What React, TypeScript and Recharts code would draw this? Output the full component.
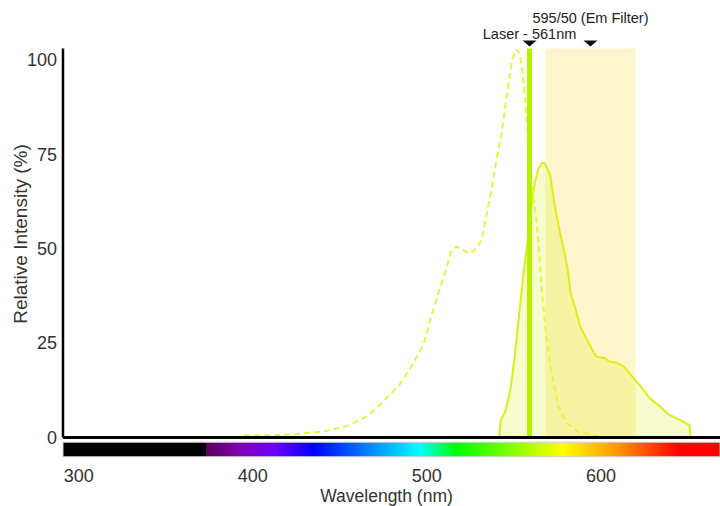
import React from "react";
import {
  Area,
  ComposedChart,
  Label,
  Line,
  ReferenceArea,
  ReferenceLine,
  XAxis,
  YAxis
} from "recharts";

// excitation spectrum (dashed)
const excitationNm = [
  395, 412, 425, 441, 454, 466, 475, 485, 491, 498, 502, 507, 511, 514, 517,
  521, 525, 529, 531.5, 534.5, 537.5, 540, 543, 545, 547, 549, 551.5, 553.5,
  555, 556.5, 557.5, 560, 562, 564, 566, 568, 571, 575.5, 580.5, 587, 595.5,
  599.5
];
const excitationVal = [
  0.5, 0.6, 0.9, 1.6, 3, 5.7, 9.5, 14.4, 18.8, 24.5, 31.2, 38.7, 44.4, 49.3, 50.6,
  49.6, 48.6, 50.4, 52.4, 59.5, 66.5, 73.6, 80.7, 87.7, 94, 100, 102.8, 101.5,
  96.6, 89.5, 83.3, 67.4, 61.2, 52.4, 39.1, 29.4, 18.8, 8.2, 3.8, 1.4, 0.8, 0
];

// emission spectrum (filled)
const emissionNm = [
  541.5, 542.5, 545, 548, 550.5, 553.5, 556, 557.5, 560.5, 562, 564, 566,
  567.5, 569, 571, 573.5, 576.5, 579.5, 581.5, 582.5, 585, 588, 592, 595.5,
  597.5, 602.5, 605, 609, 613, 615.5, 619.5, 624.5, 628, 634, 638.5, 645.5,
  651, 651.5
];
const emissionVal = [
  0, 4.6, 6.8, 12.6, 21.4, 34.7, 45.3, 50.6, 63, 67.4, 71, 72.7, 72.7, 71.4,
  69.2, 61.2, 54.2, 48, 42.7, 38.2, 34.7, 29.4, 25.9, 22.8, 21.4, 21, 20.1,
  19.8, 18.8, 17.5, 15.3, 12.6, 10.4, 8.2, 6.2, 4.6, 3.3, 0
];

const xTicks = [300, 400, 500, 600];
const yTicks = [0, 25, 50, 75, 100];
const xDomain: [number, number] = [291, 668.4];
const yDomain: [number, number] = [0, 103];

const laserNm = 559;
const laserLabel = "Laser - 561nm";
const filterRange: [number, number] = [568, 620];
const filterLabel = "595/50 (Em Filter)";

// colour bar under the axis
const spectrumNm = [291, 373, 373, 393, 413, 435, 496, 517, 578, 612, 645, 668.4];
const spectrumColors = [
  "#000000", "#000000", "#560058", "#8200b4", "#6a00ff", "#0000ff",
  "#00ffff", "#00ff00", "#ffff00", "#ff8c00", "#ff0000", "#ff0000"
];

const FONT = "'Liberation Sans', Arial, sans-serif";

const excitationData = excitationNm.map((nm, i) => ({ nm, value: excitationVal[i] }));
const emissionData = emissionNm.map((nm, i) => ({ nm, value: emissionVal[i] }));

const Marker = ({ cx, top, text, textGap }: { cx: number; top: number; text: string; textGap: number }) => (
  <g>
    <polygon points={`${cx - 7},${top - 8} ${cx + 7},${top - 8} ${cx},${top - 2}`} fill="#111" />
    <text x={cx} y={top - textGap} textAnchor="middle" fontSize={14.5} fill="#222" fontFamily={FONT}>
      {text}
    </text>
  </g>
);

const App = () => {
  const span = xDomain[1] - xDomain[0];
  return (
    <div style={{ position: "absolute", left: 0, top: 0 }}>
      <ComposedChart
        width={720}
        height={506}
        margin={{ top: 48.5, right: 0, bottom: 0, left: 0 }}
        style={{ fontFamily: FONT }}
      >
        <defs>
          <linearGradient id="spectrum" x1="0" y1="0" x2="1" y2="0">
            {spectrumNm.map((nm, i) => (
              <stop key={i} offset={(nm - xDomain[0]) / span} stopColor={spectrumColors[i]} />
            ))}
          </linearGradient>
        </defs>
        <XAxis
          type="number"
          dataKey="nm"
          domain={xDomain}
          allowDataOverflow
          ticks={xTicks}
          height={68.5}
          axisLine={{ stroke: "#000", strokeWidth: 3 }}
          tickLine={false}
          tickSize={0}
          tickMargin={32}
          tick={{ fill: "#333", fontSize: 18 }}
        >
          <Label value="Wavelength (nm)" position="insideBottom" offset={4} dx={-5} fill="#333" fontSize={17.5} />
        </XAxis>
        <YAxis
          type="number"
          domain={yDomain}
          allowDataOverflow
          ticks={yTicks}
          width={63}
          axisLine={{ stroke: "#000", strokeWidth: 2.5 }}
          tickLine={false}
          tickSize={0}
          tickMargin={6}
          tick={{ fill: "#333", fontSize: 18 }}
          label={{
            content: () => (
              <text
                transform="translate(20,234) rotate(-90)"
                textAnchor="middle"
                dominantBaseline="central"
                fontSize={19}
                fill="#333"
                fontFamily={FONT}
              >
                Relative Intensity (%)
              </text>
            )
          }}
        />
        <ReferenceArea
          x1={xDomain[0]}
          x2={xDomain[1]}
          y1={-5.1}
          y2={-1.25}
          ifOverflow="visible"
          fill="url(#spectrum)"
          fillOpacity={1}
          stroke="#d0d0d0"
          strokeWidth={1}
        />
        <ReferenceArea
          x1={filterRange[0]}
          x2={filterRange[1]}
          fill="#ffcc00"
          fillOpacity={0.2}
          stroke="none"
          label={{
            content: (props: any) => {
              const vb = props.viewBox || {};
              return <Marker cx={vb.x + vb.width / 2} top={vb.y} text={filterLabel} textGap={26} />;
            }
          }}
        />
        <Area
          data={emissionData}
          dataKey="value"
          type="linear"
          stroke="#d9ef1c"
          strokeWidth={2}
          fill="#d4f000"
          fillOpacity={0.2}
          dot={false}
          activeDot={false}
          isAnimationActive={false}
        />
        <Line
          data={excitationData}
          dataKey="value"
          type="linear"
          stroke="#e4f542"
          strokeWidth={2}
          strokeDasharray="6 4"
          dot={false}
          activeDot={false}
          isAnimationActive={false}
        />
        <ReferenceLine
          x={laserNm}
          stroke="#b5f000"
          strokeWidth={5}
          label={{
            content: (props: any) => {
              const vb = props.viewBox || {};
              return <Marker cx={vb.x} top={vb.y} text={laserLabel} textGap={10} />;
            }
          }}
        />
      </ComposedChart>
    </div>
  );
};

export default App;
